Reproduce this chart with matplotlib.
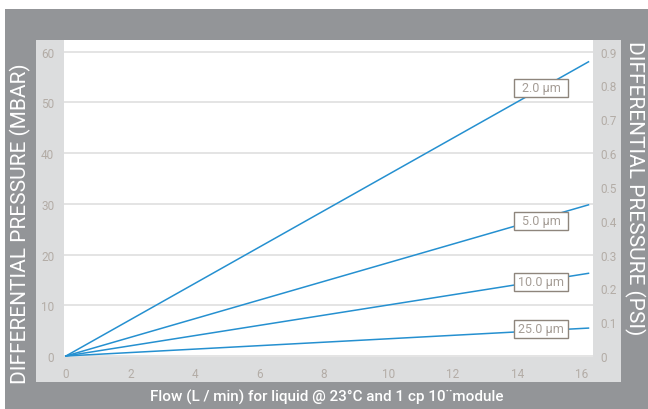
import matplotlib

matplotlib.use("Agg")
import matplotlib.pyplot as plt
from matplotlib.patches import Rectangle

W, H = 648, 410

# data (flow L/min vs differential pressure mbar)
flow = [0.0, 16.2]
series_names = ["2.0 µm", "5.0 µm", "10.0 µm", "25.0 µm"]
dp_2um = [0.0, 58.0]
dp_5um = [0.0, 29.8]
dp_10um = [0.0, 16.3]
dp_25um = [0.0, 5.5]
label_x = [14.73, 14.73, 14.73, 14.73]
label_y = [52.9, 26.7, 14.6, 5.4]

x_ticks = [0, 2, 4, 6, 8, 10, 12, 14, 16]
y_ticks = [0, 10, 20, 30, 40, 50, 60]
psi_ticks = [0, 0.1, 0.2, 0.3, 0.4, 0.5, 0.6, 0.7, 0.8, 0.9]

DARK = "#939598"
LIGHT = "#dcddde"
BLUE = "#2590d0"
TICK = "#b3aca6"
BOX = "#8e857c"

plt.rcParams["font.family"] = ["Roboto", "DejaVu Sans"]


def px(x0, y0, x1, y1):
    # pixel box (top-left origin) -> figure fraction rect
    return [x0 / W, 1 - y1 / H, (x1 - x0) / W, (y1 - y0) / H]


fig = plt.figure(figsize=(W / 100, H / 100), dpi=100)
for (x0, y0, x1, y1), col in [((5, 10, 648, 410), DARK), ((36, 41, 621, 383), LIGHT)]:
    r = px(x0, y0, x1, y1)
    fig.patches.append(Rectangle((r[0], r[1]), r[2], r[3], transform=fig.transFigure,
                                 facecolor=col, edgecolor="none", zorder=-5))

ax = fig.add_axes(px(64, 41, 593, 358))
ax.set_facecolor("white")
for s in ax.spines.values():
    s.set_visible(False)

for ys in [dp_2um, dp_5um, dp_10um, dp_25um]:
    ax.plot(flow, ys, color=BLUE, lw=1.1, zorder=3)

# fixed-size label boxes (54 x 18 px in the reference)
bw, bh = 54 / 32.25, 18 / 5.07
for name, lx, ly in zip(series_names, label_x, label_y):
    ax.add_patch(Rectangle((lx - bw / 2, ly - bh / 2), bw, bh, facecolor="white",
                           edgecolor=BOX, lw=1.0, zorder=4))
    ax.text(lx, ly, name, ha="center", va="center", fontsize=9, color="#a59d96", zorder=5)

ax.set_xlim(-0.06, 16.34)
ax.set_ylim(-0.2, 62.3)
ax.set_xticks(x_ticks)
ax.set_yticks(y_ticks)
ax.grid(axis="y", color="#e2e2e2", lw=1.3)
ax.set_axisbelow(True)
ax.tick_params(length=0, labelsize=8.5, colors=TICK, pad=7)

ax2 = ax.twinx()
ax2.set_ylim(-0.2 * 0.015, 62.3 * 0.015)
ax2.set_yticks(psi_ticks)
ax2.set_yticklabels(["0"] + [f"{v:.1f}" for v in psi_ticks[1:]])
ax2.tick_params(length=0, labelsize=8.5, colors=TICK, pad=5)
for s in ax2.spines.values():
    s.set_visible(False)

fig.text(20 / W, 1 - 224 / H, "DIFFERENTIAL PRESSURE (MBAR)", rotation=90, ha="center",
         va="center", color="white", fontsize=15)
fig.text(635 / W, 1 - 188 / H, "DIFFERENTIAL PRESSURE (PSI)", rotation=270, ha="center",
         va="center", color="white", fontsize=15)
fig.text(327 / W, 1 - 397 / H, "Flow (L / min) for liquid @ 23°C and 1 cp 10¨module",
         ha="center", va="center", color="white", fontsize=11, fontweight="medium")

fig.savefig("out.png", dpi=100)
